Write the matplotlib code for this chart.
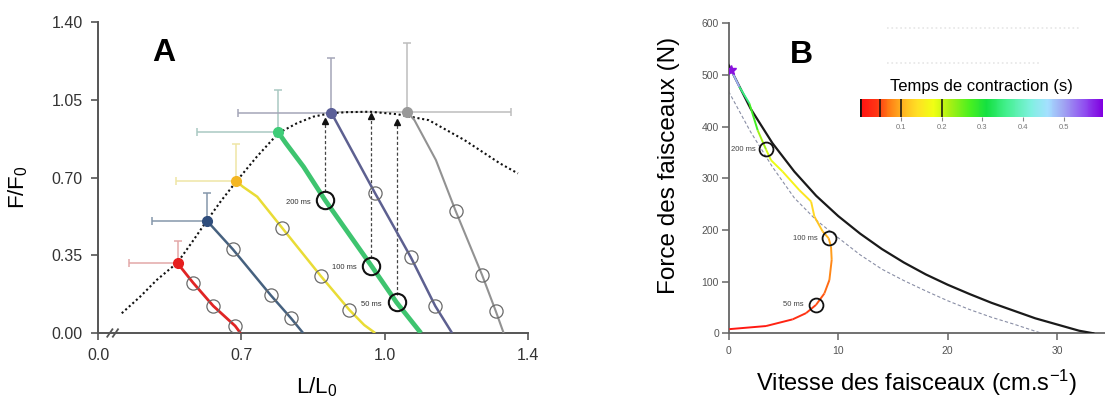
import numpy as np
import matplotlib
matplotlib.use('Agg')
import matplotlib.pyplot as plt
from matplotlib.collections import LineCollection
from matplotlib.colors import LinearSegmentedColormap, Normalize
from matplotlib.cm import ScalarMappable

plt.rcParams['font.family'] = ['Liberation Sans', 'DejaVu Sans']
plt.rcParams['mathtext.default'] = 'regular'

# ---------------- panel A data (L/L0, F/F0) ----------------
dotted_L = [0.115, 0.204, 0.286, 0.387, 0.459, 0.530, 0.600, 0.674, 0.732, 0.777,
            0.816, 0.851, 0.886, 0.921, 0.969, 1.034, 1.123, 1.223, 1.322, 1.372]
dotted_F = [0.089, 0.163, 0.239, 0.317, 0.410, 0.505, 0.595, 0.682, 0.794, 0.900,
            0.945, 0.975, 0.990, 0.995, 0.997, 0.986, 0.959, 0.869, 0.764, 0.719]

start_L = [0.388, 0.532, 0.672, 0.777, 0.888, 1.063]
start_F = [0.314, 0.505, 0.686, 0.904, 0.993, 0.995]
err_lo_L = [0.149, 0.262, 0.379, 0.484, 0.681, 0.888]
err_hi_L = [0.388, 0.532, 0.672, 0.777, 0.888, 1.352]
err_hi_F = [0.416, 0.632, 0.850, 1.095, 1.240, 1.308]

red_L = [0.388, 0.463, 0.562, 0.669, 0.695]
red_F = [0.314, 0.227, 0.122, 0.032, 0.0]
blue_L = [0.532, 0.658, 0.761, 0.804, 0.829]
blue_F = [0.505, 0.377, 0.171, 0.066, 0.0]
yellow_L = [0.672, 0.703, 0.733, 0.785, 0.866, 0.926, 0.957, 0.980]
yellow_F = [0.686, 0.659, 0.614, 0.474, 0.257, 0.104, 0.036, 0.0]
green_L = [0.777, 0.793, 0.830, 0.875, 0.972, 1.033, 1.101]
green_F = [0.904, 0.855, 0.749, 0.599, 0.303, 0.138, 0.0]
purple_L = [0.888, 0.980, 1.073, 1.141, 1.188]
purple_F = [0.993, 0.629, 0.341, 0.122, 0.0]
gray_L = [1.063, 1.083, 1.143, 1.198, 1.272, 1.310, 1.332]
gray_F = [0.995, 0.959, 0.779, 0.550, 0.261, 0.099, 0.0]

open_L = [0.463, 0.562, 0.669, 0.658, 0.761, 0.804, 0.785, 0.866, 0.926,
          0.980, 1.073, 1.141, 1.198, 1.272, 1.310]
open_F = [0.227, 0.122, 0.032, 0.377, 0.171, 0.066, 0.474, 0.257, 0.104,
          0.629, 0.341, 0.122, 0.550, 0.261, 0.099]

ms_labels = ['200 ms', '100 ms', '50 ms']
big_L = [0.875, 0.972, 1.033]
big_F = [0.599, 0.303, 0.138]
arrow_top = [0.955, 0.980, 0.950]
label_L = [0.846, 0.942, 0.9925]

# ---------------- panel B data ----------------
hill_v = [0, 2, 4, 6, 8, 10, 12, 14, 16, 18, 20, 22, 24, 26, 28, 30, 32, 33.3]
hill_F = [519, 435, 368, 313, 266, 227, 193, 163, 137, 114, 94, 76, 59, 44, 29, 17, 5, 0]
dash_v = [0, 2, 4, 6, 8, 10, 12, 14, 16, 18, 20, 22, 24, 26, 28, 28.6]
dash_F = [468, 390, 322, 262, 219, 185, 152, 124, 102, 82, 63, 46, 31, 18, 4, 0]

traj_v = [0.06, 3.41, 5.85, 7.07, 7.98, 8.74, 9.20, 9.41, 9.35, 9.13, 8.59,
          7.83, 7.53, 6.46, 4.93, 3.87, 3.41, 2.65, 1.89, 0.98, 0.22]
traj_F = [8, 14, 27, 39, 55, 77, 103, 142, 168, 184, 197,
          226, 255, 277, 313, 335, 356, 393, 445, 477, 510]
traj_t = [0.0, 0.015, 0.03, 0.04, 0.05, 0.06, 0.07, 0.085, 0.095, 0.10, 0.11,
          0.125, 0.14, 0.155, 0.175, 0.19, 0.20, 0.25, 0.30, 0.40, 0.58]

mark_v = [3.41, 9.13, 7.98]
mark_F = [356, 184, 55]
mark_txt_v = [2.5, 8.13, 6.82]
t_max = 0.595
cbar_marks = [0.0, 0.05, 0.1, 0.2]


# broken x axis of panel A: equal spacing between 0.0, 0.7, 1.0, 1.4
def fwd(x):
    x = np.asarray(x, float)
    return np.where(x < 0.7, x / 0.7, np.where(x < 1.0, 1 + (x - 0.7) / 0.3, 2 + (x - 1.0) / 0.4))


def inv(u):
    u = np.asarray(u, float)
    return np.where(u < 1, u * 0.7, np.where(u < 2, 0.7 + (u - 1) * 0.3, 1.0 + (u - 2) * 0.4))


fig = plt.figure(figsize=(11.05, 3.98), dpi=100)

axA = fig.add_axes([0.0889, 0.1633, 0.3889, 0.7807])
axA.set_xscale('function', functions=(fwd, inv))
axA.set_xlim(0, 1.4)
axA.set_ylim(0, 1.4)

line_cols = ['#e02424', '#46617f', '#e9dc36', '#3ec46f', '#5d6090', '#929292']
dot_cols = ['#e61e1e', '#2f4d7c', '#f4b622', '#3fcc78', '#5b5f98', '#9a9a9a']
err_cols = ['#e3a8a8', '#8597ab', '#efe6a6', '#a9c9c2', '#a4a6b8', '#bdbdbd']
widths = [2.0, 1.8, 1.8, 3.4, 1.8, 1.5]

for i in range(6):
    x0, y0 = start_L[i], start_F[i]
    axA.errorbar([x0], [y0], xerr=[[x0 - err_lo_L[i]], [err_hi_L[i] - x0]],
                 yerr=[[0], [err_hi_F[i] - y0]], fmt='none', ecolor=err_cols[i],
                 elinewidth=1.1, capsize=3, capthick=1.1, zorder=1)

series_L = [red_L, blue_L, yellow_L, green_L, purple_L, gray_L]
series_F = [red_F, blue_F, yellow_F, green_F, purple_F, gray_F]
for i in range(6):
    axA.plot(series_L[i], series_F[i], color=line_cols[i], lw=widths[i],
             solid_capstyle='butt', zorder=3)

axA.plot(dotted_L, dotted_F, color='#111111', lw=1.5, ls=(0, (1, 1.3)), zorder=2)

for i in range(6):
    axA.plot(start_L[i], start_F[i], 'o', ms=7, color=dot_cols[i], zorder=5)

axA.plot(open_L, open_F, 'o', ms=9.5, mfc='none', mec='#6a6a6a', mew=0.9, zorder=4)
axA.plot(big_L, big_F, 'o', ms=12.5, mfc='none', mec='#111111', mew=1.5, zorder=6)

for i in range(3):
    axA.plot([big_L[i], big_L[i]], [big_F[i] + 0.035, arrow_top[i]], color='#444444',
             lw=0.9, ls=(0, (2.5, 1.8)), zorder=2)
    axA.plot(big_L[i], arrow_top[i], marker='^', ms=4, color='#111111', zorder=2)
    axA.text(label_L[i], big_F[i] - 0.01, ms_labels[i], ha='right', va='center',
             fontsize=5.5, color='#333333')

axA.spines['top'].set_visible(False)
axA.spines['right'].set_visible(False)
for s in ['left', 'bottom']:
    axA.spines[s].set_color('#555555')
    axA.spines[s].set_linewidth(1.4)
axA.set_xticks([0.0, 0.7, 1.0, 1.4], ['0.0', '0.7', '1.0', '1.4'])
axA.set_yticks([0, 0.35, 0.70, 1.05, 1.40], ['0.00', '0.35', '0.70', '1.05', '1.40'])
axA.minorticks_off()
axA.tick_params(direction='out', length=5, width=1.2, color='#555555',
                labelsize=11.5, labelcolor='#333333')
axA.tick_params(axis='x', pad=6)
axA.tick_params(axis='y', pad=6)
for xb in [0.027, 0.040]:
    axA.plot([xb - 0.006, xb + 0.006], [-0.012, 0.012], transform=axA.transAxes,
             color='#555555', lw=1.3, clip_on=False)
axA.set_ylabel('F/F$_0$', fontsize=16)
axA.yaxis.set_label_coords(-0.158, 0.47)
axA.set_xlabel('L/L$_0$', fontsize=16)
axA.xaxis.set_label_coords(0.509, -0.135)
fig.text(164 / 1105, 1 - 53 / 398, 'A', ha='center', va='center', fontsize=23, weight='bold')

# ---------------- panel B ----------------
cb_pos = [0.0, 0.04, 0.07, 0.10, 0.14, 0.18, 0.22, 0.27, 0.31, 0.36, 0.42, 0.46, 0.50, 0.55, 0.595]
cb_col = ['#ff1212', '#ff3414', '#ff7a14', '#ffb020', '#ffe024', '#f0ff14', '#a8f014',
          '#48f020', '#14e040', '#44f090', '#80f0e0', '#a4e0ff', '#a0a4f2', '#9050f0', '#8000e0']
cmap = LinearSegmentedColormap.from_list('contraction', [(p / t_max, c) for p, c in zip(cb_pos, cb_col)])
norm = Normalize(0, t_max)

axB = fig.add_axes([0.6594, 0.1626, 0.3406, 0.7789])
axB.set_xlim(0, 34.37)
axB.set_ylim(0, 600)

axB.plot(dash_v, dash_F, color='#8a8fa6', lw=0.8, ls=(0, (3, 2)), zorder=2)
axB.plot(hill_v, hill_F, color='#1a1a1a', lw=1.6, zorder=3)

pts = np.column_stack([traj_v, traj_F])
segs = np.stack([pts[:-1], pts[1:]], axis=1)
t_mid = (np.array(traj_t[:-1]) + np.array(traj_t[1:])) / 2
lc = LineCollection(segs, colors=cmap(norm(t_mid)), linewidths=1.4, zorder=4)
axB.add_collection(lc)
axB.plot(traj_v[-1], traj_F[-1], marker='*', ms=7, color='#8a10e0', zorder=5)

axB.plot(mark_v, mark_F, 'o', ms=10, mfc='none', mec='#111111', mew=1.3, zorder=6)
for i in range(3):
    axB.text(mark_txt_v[i], mark_F[i], ms_labels[i], ha='right', va='center',
             fontsize=5.5, color='#444444')

axB.plot([0.42, 0.936], [0.985, 0.985], transform=axB.transAxes, color='#e6e6e6', lw=1.2, ls=':')
axB.plot([0.42, 0.826], [0.872, 0.872], transform=axB.transAxes, color='#e6e6e6', lw=1.2, ls=':')

axB.spines['top'].set_visible(False)
axB.spines['right'].set_visible(False)
for s in ['left', 'bottom']:
    axB.spines[s].set_color('#666666')
    axB.spines[s].set_linewidth(1.3)
axB.set_xticks([0, 10, 20, 30])
axB.set_yticks(np.arange(0, 601, 100))
axB.tick_params(direction='out', length=5, width=1.1, color='#666666',
                labelsize=7.5, labelcolor='#555555', pad=2)
axB.tick_params(axis='x', pad=4)
axB.set_ylabel('Force des faisceaux (N)', fontsize=17.5)
axB.yaxis.set_label_coords(-0.128, 0.543)
axB.set_xlabel('Vitesse des faisceaux (cm.s$^{-1}$)', fontsize=17)
axB.xaxis.set_label_coords(0.5, -0.11)
fig.text(801.7 / 1105, 1 - 55 / 398, 'B', ha='center', va='center', fontsize=23, weight='bold')

cax = fig.add_axes([860 / 1105, (398 - 116.7) / 398, 242.7 / 1105, 17.4 / 398])
cb = fig.colorbar(ScalarMappable(norm=norm, cmap=cmap), cax=cax, orientation='horizontal',
                  ticks=[0.1, 0.2, 0.3, 0.4, 0.5])
cb.outline.set_visible(False)
cb.ax.tick_params(length=3, width=0.8, color='#888888', labelsize=5.5, labelcolor='#777777', pad=2)
for m in cbar_marks:
    cax.axvline(m, color='#111111', lw=2.0 if m == 0 else 1.1)
cax.set_title('Temps de contraction (s)', fontsize=12, pad=6)

fig.savefig('out.png', dpi=100)
